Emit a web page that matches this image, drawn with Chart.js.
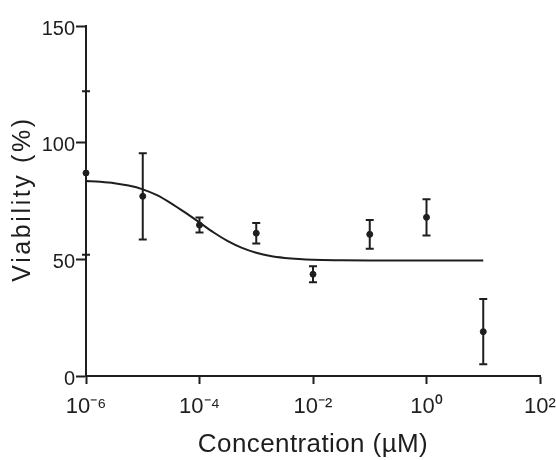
<!DOCTYPE html>
<html>
<head>
<meta charset="utf-8">
<script src="https://cdn.jsdelivr.net/npm/chart.js@4.4.1/dist/chart.umd.min.js"></script>
<style>
  html, body { margin: 0; padding: 0; background: #ffffff; }
  #wrap { width: 556px; height: 460px; }
</style>
</head>
<body>
<div id="wrap"><canvas id="c" width="556" height="460"></canvas></div>
<script>
// Measured viability (mean ± SEM) at each concentration (µM)
const concentrations = [1e-6, 1e-5, 1e-4, 1e-3, 1e-2, 1e-1, 1, 10];
const viabilityMean  = [87, 77, 64.7, 61.2, 43.6, 60.7, 68, 19];
const viabilitySem   = [35, 18.5, 3.2, 4.4, 3.4, 6.2, 7.8, 14];

// Fitted dose-response curve
const fitConc = [1e-6, 1.78e-6, 3.16e-6, 5.62e-6, 1e-5, 1.78e-5, 3.16e-5, 5.62e-5,
                 1e-4, 1.78e-4, 3.16e-4, 5.62e-4, 1e-3, 1.78e-3, 3.16e-3, 5.62e-3,
                 1e-2, 3.16e-2, 1e-1, 1, 10];
const fitViability = [83.6, 83.2, 82.6, 81.6, 80.0, 77.5, 74.0, 70.0,
                      65.8, 61.5, 57.8, 54.9, 52.8, 51.4, 50.6, 50.1,
                      49.8, 49.6, 49.5, 49.5, 49.5];

// Axis ticks
const xTickValues = [1e-6, 1e-4, 1e-2, 1, 1e2];
const xTickLabels = ['10\u207B\u2076', '10\u207B\u2074', '10\u207B\u00B2', '10\u2070', '10\u00B2'];
const yTickValues = [0, 50, 100, 150];

const ink = '#1e1e1e';
const sansFamily = '"Liberation Sans", Arial, Helvetica, sans-serif';

// Vertical error bars with end caps
const errorBars = {
  id: 'errorBars',
  afterDatasetsDraw(chart) {
    const { ctx, scales: { x, y } } = chart;
    ctx.save();
    ctx.strokeStyle = ink;
    ctx.lineWidth = 2;
    concentrations.forEach((c, i) => {
      const px = x.getPixelForValue(c);
      const top = y.getPixelForValue(viabilityMean[i] + viabilitySem[i]);
      const bot = y.getPixelForValue(viabilityMean[i] - viabilitySem[i]);
      ctx.beginPath();
      ctx.moveTo(px, top); ctx.lineTo(px, bot);
      ctx.moveTo(px - 4, top); ctx.lineTo(px + 4, top);
      ctx.moveTo(px - 4, bot); ctx.lineTo(px + 4, bot);
      ctx.stroke();
    });
    ctx.restore();
  }
};

// Spaced-out axis titles
const axisTitles = {
  id: 'axisTitles',
  afterDraw(chart) {
    const { ctx, chartArea } = chart;
    ctx.save();
    ctx.fillStyle = ink;
    ctx.textAlign = 'center';
    ctx.textBaseline = 'middle';
    ctx.font = '26px ' + sansFamily;
    ctx.letterSpacing = '0.4px';
    ctx.fillText('Concentration (\u00B5M)', (chartArea.left + chartArea.right) / 2, 445);
    ctx.translate(23, (chartArea.top + chartArea.bottom) / 2 - 2);
    ctx.rotate(-Math.PI / 2);
    ctx.font = '25px ' + sansFamily;
    ctx.letterSpacing = '2.6px';
    ctx.fillText('Viability (%)', 0, 0);
    ctx.restore();
  }
};

new Chart(document.getElementById('c'), {
  data: {
    datasets: [
      {
        type: 'line',
        label: 'Fit',
        data: fitConc.map((c, i) => ({ x: c, y: fitViability[i] })),
        borderColor: ink,
        borderWidth: 2,
        pointRadius: 0,
        fill: false,
        cubicInterpolationMode: 'monotone'
      },
      {
        type: 'scatter',
        label: 'Viability',
        data: concentrations.map((c, i) => ({ x: c, y: viabilityMean[i] })),
        backgroundColor: ink,
        borderColor: ink,
        pointRadius: 3,
        pointHoverRadius: 3,
        clip: false
      }
    ]
  },
  options: {
    responsive: false,
    animation: false,
    devicePixelRatio: 1,
    layout: { padding: { left: 0, top: 26, right: 16, bottom: 0 } },
    plugins: { legend: { display: false }, tooltip: { enabled: false } },
    scales: {
      x: {
        type: 'logarithmic',
        min: 1e-6,
        max: 1e2,
        afterBuildTicks(scale) { scale.ticks = xTickValues.map(v => ({ value: v })); },
        afterFit(scale) {
          scale.height = 84;
          scale.paddingLeft = 0;
          scale.paddingRight = 0;
        },
        ticks: {
          autoSkip: false,
          maxRotation: 0,
          color: ink,
          padding: 10,
          font: { family: sansFamily, size: 22 },
          callback(value) {
            const i = xTickValues.findIndex(v => Math.abs(Math.log10(v) - Math.log10(value)) < 1e-6);
            return i >= 0 ? xTickLabels[i] : '';
          }
        },
        grid: { display: true, drawOnChartArea: false, drawTicks: true, tickLength: 8, tickWidth: 2, color: ink },
        border: { display: true, color: ink, width: 2 }
      },
      y: {
        type: 'linear',
        min: 0,
        max: 150,
        afterBuildTicks(scale) { scale.ticks = yTickValues.map(v => ({ value: v })); },
        afterFit(scale) {
          scale.width = 86;
          scale.paddingTop = 0;
          scale.paddingBottom = 0;
        },
        ticks: {
          color: ink,
          padding: 1,
          labelOffset: 3,
          font: { family: sansFamily, size: 20 }
        },
        grid: { display: true, drawOnChartArea: false, drawTicks: true, tickLength: 10, tickWidth: 2, color: ink },
        border: { display: true, color: ink, width: 2 }
      }
    }
  },
  plugins: [errorBars, axisTitles]
});
</script>
</body>
</html>
